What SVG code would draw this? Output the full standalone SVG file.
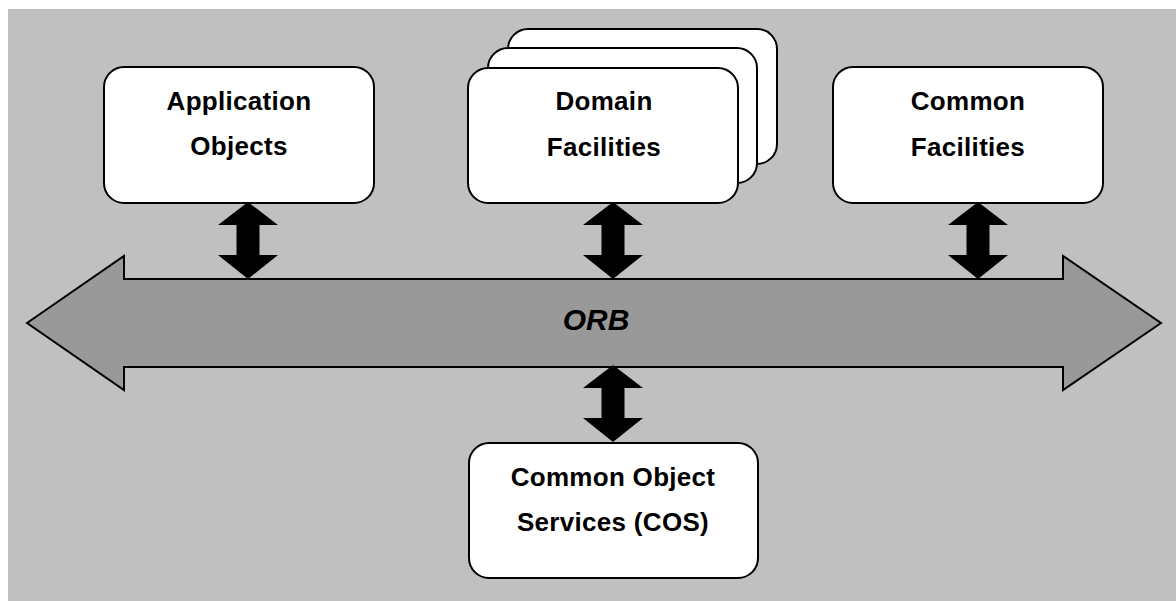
<svg xmlns="http://www.w3.org/2000/svg" width="1176" height="601" viewBox="0 0 1176 601">
<style>
.box{fill:#ffffff;stroke:#000000;stroke-width:2}
.lbl{font-family:"Liberation Sans",Arial,sans-serif;font-weight:bold;font-size:26px;letter-spacing:0.3px;fill:#000000;text-anchor:middle}
.orb{font-family:"Liberation Sans",Arial,sans-serif;font-weight:bold;font-style:italic;font-size:30px;fill:#000000;text-anchor:middle}
.dbl{fill:#000000}
</style>
<defs>
<path id="dblarrow" d="M0,0 L30,23 L11.5,23 L11.5,53 L30,53 L0,77 L-30,53 L-11.5,53 L-11.5,23 L-30,23 Z"/>
</defs>
<rect x="8" y="9" width="1168" height="592" fill="#c0c0c0"/>
<g id="orb">
<path d="M27,323 L124,256 L124,279 L1063,279 L1063,256 L1161,323 L1063,390 L1063,367 L124,367 L124,390 Z" fill="#999999" stroke="#000000" stroke-width="2" stroke-linejoin="miter"/>
<text class="orb" x="596" y="330">ORB</text>
</g>
<g id="app-objects">
<rect class="box" x="104" y="67" width="270" height="136" rx="20" ry="20"/>
<text class="lbl" x="239" y="110">Application</text>
<text class="lbl" x="239" y="155">Objects</text>
</g>
<g id="domain-facilities">
<rect class="box" x="508" y="29" width="269" height="135" rx="20" ry="20"/>
<rect class="box" x="488" y="48" width="269" height="135" rx="20" ry="20"/>
<rect class="box" x="468" y="68" width="270" height="135" rx="20" ry="20"/>
<text class="lbl" x="604" y="110">Domain</text>
<text class="lbl" x="604" y="156">Facilities</text>
</g>
<g id="common-facilities">
<rect class="box" x="833" y="67" width="270" height="136" rx="20" ry="20"/>
<text class="lbl" x="968" y="110">Common</text>
<text class="lbl" x="968" y="156">Facilities</text>
</g>
<g id="cos">
<rect class="box" x="469" y="443" width="289" height="135" rx="20" ry="20"/>
<text class="lbl" x="613" y="486">Common Object</text>
<text class="lbl" x="613" y="531">Services (COS)</text>
</g>
<g id="connectors">
<use href="#dblarrow" class="dbl" x="248" y="202"/>
<use href="#dblarrow" class="dbl" x="613" y="202"/>
<use href="#dblarrow" class="dbl" x="978" y="202"/>
<use href="#dblarrow" class="dbl" x="613" y="365"/>
</g>
</svg>
